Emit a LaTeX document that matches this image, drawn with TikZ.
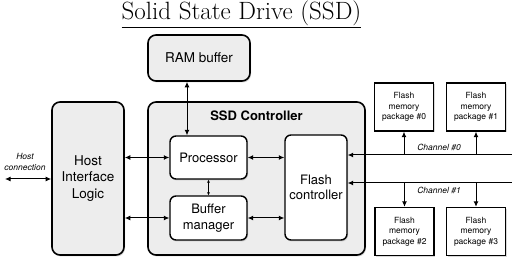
\documentclass[tikz,border=0pt]{standalone}
\usepackage{fontspec}
\setsansfont{TeX Gyre Heros}
\usetikzlibrary{arrows.meta,positioning,shadows}
\tikzset{
  boxshadow/.style={drop shadow={opacity=0.3,shadow xshift=1pt,shadow yshift=-1.5pt}},
  bigbox/.style={draw,line width=1.6pt,rounded corners=8pt,fill=gray!14,boxshadow,
    font=\sffamily\fontsize{13.5}{16.5}\selectfont,align=center,inner sep=0pt},
  unitbox/.style={draw,line width=1.4pt,rounded corners=6pt,fill=white,boxshadow,
    font=\sffamily\fontsize{13}{15.5}\selectfont,align=center,inner sep=0pt},
  flashbox/.style={draw,line width=1.4pt,fill=white,boxshadow,
    font=\sffamily\fontsize{8.5}{10.5}\selectfont,align=center,inner sep=0pt,
    minimum width=59pt,minimum height=48pt},
  link/.style={line width=1pt,{Latex[length=5.5pt,width=5pt]}-{Latex[length=5.5pt,width=5pt]}},
  feed/.style={line width=1pt,-{Latex[length=5.5pt,width=5pt]}},
  small/.style={font=\sffamily\itshape\fontsize{8.5}{10.5}\selectfont,align=center}
}
\begin{document}
\begin{tikzpicture}[x=1pt,y=-1pt]
  \useasboundingbox (0,0) rectangle (512,267);
  \node (title) at (241.5,14) {\fontsize{25}{28}\selectfont\underline{Solid State Drive (SSD)}};
  \node[bigbox,minimum width=102pt,minimum height=46pt] (ram) at (199,58) {RAM buffer};
  \node[bigbox,minimum width=72pt,minimum height=153pt] (hil) at (88,178.5) {Host\\Interface\\Logic};
  \node[bigbox,minimum width=217pt,minimum height=153pt] (ssdc) at (256.5,178.5) {};
  \node[font=\sffamily\bfseries\fontsize{13}{15}\selectfont,below=6pt of ssdc.north] (ssdlabel) {SSD Controller};
  \node[unitbox,minimum width=77pt,minimum height=43pt] (proc) at (208.5,157.5) {Processor};
  \node[unitbox,minimum width=77pt,minimum height=44pt] (buf) at (208.5,218) {Buffer\\manager};
  \node[unitbox,minimum width=62pt,minimum height=105pt] (fc) at (316,187.5) {Flash\\controller};
  \node[flashbox] (pk0) at (404,107) {Flash\\memory\\package \#0};
  \node[flashbox] (pk1) at (476,107) {Flash\\memory\\package \#1};
  \node[flashbox] (pk2) at (404.5,231.5) {Flash\\memory\\package \#2};
  \node[flashbox] (pk3) at (476,231.5) {Flash\\memory\\package \#3};
  \coordinate (hostend) at (5,179);
  \coordinate (ch0end) at (512,155);
  \coordinate (ch1end) at (512,183);
  \draw[link] (hostend) -- (hil.west |- hostend);
  \node[small,above=5pt of hostend,xshift=20pt] (hostlabel) {Host\\connection};
  \draw[link] ([xshift=-12pt]ram.south) -- ([xshift=-12pt]ram.south |- proc.north);
  \draw[link] (hil.east |- proc.west) -- (proc.west);
  \draw[link] (hil.east |- buf.west) -- (buf.west);
  \draw[link] (proc.east) -- (fc.west |- proc.east);
  \draw[link] (buf.east) -- (fc.west |- buf.east);
  \draw[link,{Latex[length=3pt,width=3pt]}-{Latex[length=3pt,width=3pt]}] (proc.south) -- (buf.north);
  \draw[feed] (ch0end) -- (fc.east |- ch0end);
  \draw[feed] (ch1end) -- (fc.east |- ch1end);
  \draw[feed] (pk0 |- ch0end) -- (pk0.south);
  \draw[feed] (pk1 |- ch0end) -- (pk1.south);
  \draw[feed] (pk2 |- ch1end) -- (pk2.north);
  \draw[feed] (pk3 |- ch1end) -- (pk3.north);
  \node[small,above=1pt] (ch0label) at (439,155) {Channel \#0};
  \node[small,below=1pt] (ch1label) at (439,183) {Channel \#1};
\end{tikzpicture}
\end{document}
